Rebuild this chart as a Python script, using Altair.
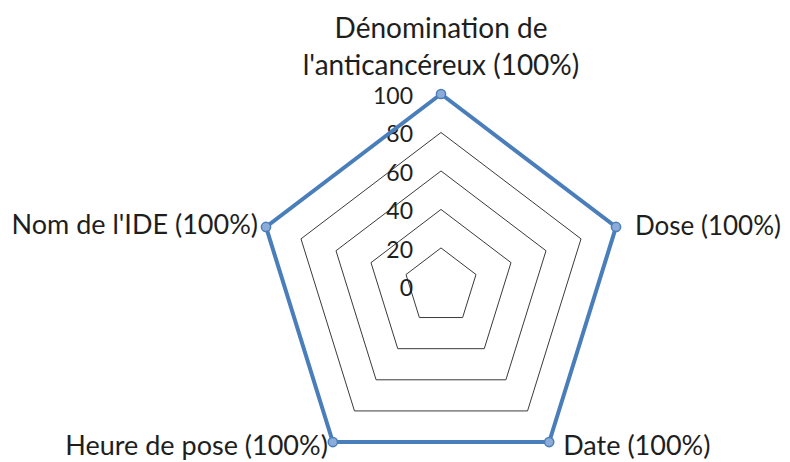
import altair as alt
import pandas as pd

# ---- data ----
categories = ["Dénomination de l'anticancéreux", "Dose", "Date", "Heure de pose", "Nom de l'IDE"]
values = [100, 100, 100, 100, 100]
category_labels = [
    "Dénomination de\nl'anticancéreux (100%)",
    "Dose (100%)",
    "Date (100%)",
    "Heure de pose (100%)",
    "Nom de l'IDE (100%)",
]
grid_levels = [20, 40, 60, 80, 100]
tick_values = [0, 20, 40, 60, 80, 100]
tick_labels = ["0", "20", "40", "60", "80", "100"]

n = len(categories)

series_rows = []
for k in range(n + 1):
    i = k % n
    series_rows.append({"idx": i, "order": k, "category": categories[i],
                        "value": values[i], "label": category_labels[i]})
series_df = pd.DataFrame(series_rows)

grid_rows = []
for lvl in grid_levels:
    for k in range(n + 1):
        grid_rows.append({"level": lvl, "idx": k % n, "order": k, "value": lvl})
grid_df = pd.DataFrame(grid_rows)

ticks_df = pd.DataFrame({"value": tick_values, "text": tick_labels})

W, H = 774, 456
x_scale = alt.Scale(domain=[-235.3, 185.3], nice=False, zero=False)
y_scale = alt.Scale(domain=[-92.3, 144.7], nice=False, zero=False)


def polar_xy(ch):
    return ch.transform_calculate(
        ang=f"2*PI*datum.idx/{n}"
    ).transform_calculate(
        px="datum.value*sin(datum.ang)",
        py="datum.value*cos(datum.ang)",
    )


X = alt.X("px:Q", scale=x_scale, axis=None)
Y = alt.Y("py:Q", scale=y_scale, axis=None)

BLUE = "#4A7EBB"
TEXT = "#1e1e1e"
FONT = "Lato"

grid = polar_xy(alt.Chart(grid_df)).mark_line(
    color="#3a3a3a", strokeWidth=1
).encode(x=X, y=Y, detail="level:N", order="order:Q")

line = polar_xy(alt.Chart(series_df)).mark_line(
    color=BLUE, strokeWidth=4, strokeJoin="miter"
).encode(x=X, y=Y, order="order:Q")

points = polar_xy(alt.Chart(series_df)).transform_filter(
    "datum.order < %d" % n
).mark_point(
    shape="circle", filled=True, size=85, fill="#8DABD8", stroke=BLUE,
    strokeWidth=1.5, opacity=1
).encode(x=X, y=Y)

ticks = alt.Chart(ticks_df).mark_text(
    align="right", baseline="middle", dx=-28, dy=3, font=FONT, fontSize=23, color=TEXT
).encode(x=alt.X("zero:Q", scale=x_scale, axis=None),
         y=alt.Y("value:Q", scale=y_scale, axis=None),
         text="text:N").transform_calculate(zero="0")

label_layout = [
    dict(align="center", baseline="alphabetic", dx=0, dy=-56, fontSize=28),
    dict(align="left", baseline="alphabetic", dx=19, dy=8, fontSize=26),
    dict(align="left", baseline="alphabetic", dx=14, dy=13, fontSize=27),
    dict(align="right", baseline="alphabetic", dx=-5, dy=13, fontSize=27),
    dict(align="right", baseline="alphabetic", dx=-8, dy=7, fontSize=27),
]

label_layers = []
for i, lay in enumerate(label_layout):
    label_layers.append(
        polar_xy(alt.Chart(series_df)).transform_filter(
            "datum.order == %d" % i
        ).mark_text(
            font=FONT, color=TEXT, lineBreak="\n", lineHeight=37, **lay
        ).encode(x=X, y=Y, text="label:N")
    )

chart = alt.layer(grid, ticks, line, points, *label_layers).properties(
    width=W, height=H, padding=0, autosize=alt.AutoSizeParams(type="none")
).configure_view(stroke=None)

chart.save("out.html", embed_options={"renderer": "svg", "actions": False})
